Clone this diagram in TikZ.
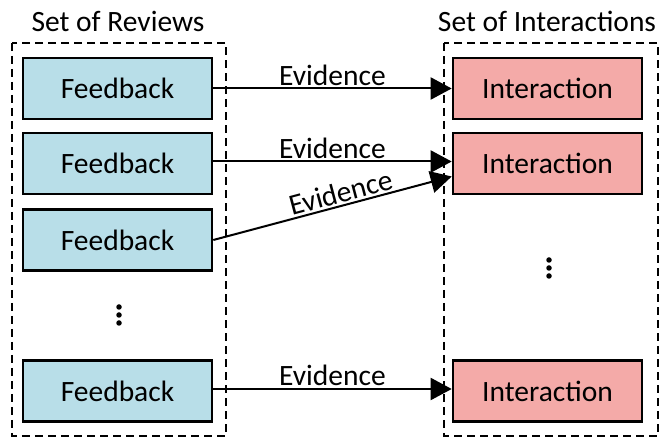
\documentclass[tikz,border=0pt]{standalone}
\usepackage{fontspec}
\setmainfont{Carlito}
\usetikzlibrary{arrows.meta}
\definecolor{fbblue}{HTML}{B8DEE8}
\definecolor{inred}{HTML}{F4AAA8}
\begin{document}
\begin{tikzpicture}[x=1pt,y=-1pt,
  every node/.style={font=\fontsize{29.5}{34}\selectfont},
  fbbox/.style={draw=black, line width=2.6pt, fill=fbblue, minimum width=189pt, minimum height=61pt, inner sep=0pt},
  inbox/.style={draw=black, line width=2.6pt, fill=inred, minimum width=189pt, minimum height=61pt, inner sep=0pt},
  group/.style={draw=black, line width=1.4pt, dash pattern=on 8pt off 5pt},
  evid/.style={line width=2pt, -{Triangle[length=21pt,width=22pt]}},
  lbl/.style={above, inner sep=2pt},
  dotsnode/.style={circle, fill=black, inner sep=0pt, minimum size=5.5pt}
]
\useasboundingbox (0,0) rectangle (662,438);
\draw[group] (12,43) rectangle (226,436);
\draw[group] (444,43) rectangle (658,436);
\node (t1) at (118,21) {Set of Reviews};
\node (t2) at (547,21) {Set of Interactions};

\node[fbbox] (f1) at (117.5,88.5) {Feedback};
\node[fbbox] (f2) at (117.5,163.5) {Feedback};
\node[fbbox] (f3) at (117.5,240) {Feedback};
\node[fbbox] (f4) at (117.5,391) {Feedback};

\node[inbox] (i1) at (547.5,88.5) {Interaction};
\node[inbox] (i2) at (547.5,163.5) {Interaction};
\node[inbox] (i3) at (547.5,391) {Interaction};

\node[dotsnode] (ld1) at (119,307) {};
\node[dotsnode] (ld2) at (119,315) {};
\node[dotsnode] (ld3) at (119,323) {};
\node[dotsnode] (rd1) at (549,260) {};
\node[dotsnode] (rd2) at (549,268) {};
\node[dotsnode] (rd3) at (549,276) {};

\draw[evid] (f1.east) -- node[lbl] {Evidence} (i1.west);
\draw[evid] ([yshift=2pt]f2.east) -- node[lbl] {Evidence} ([yshift=2pt]i2.west);
\draw[evid] (f3.east) -- node[lbl, sloped, pos=0.55] {Evidence} ([yshift=-13pt]i2.west);
\draw[evid] ([yshift=2pt]f4.east) -- node[lbl] {Evidence} ([yshift=2pt]i3.west);
\end{tikzpicture}
\end{document}
